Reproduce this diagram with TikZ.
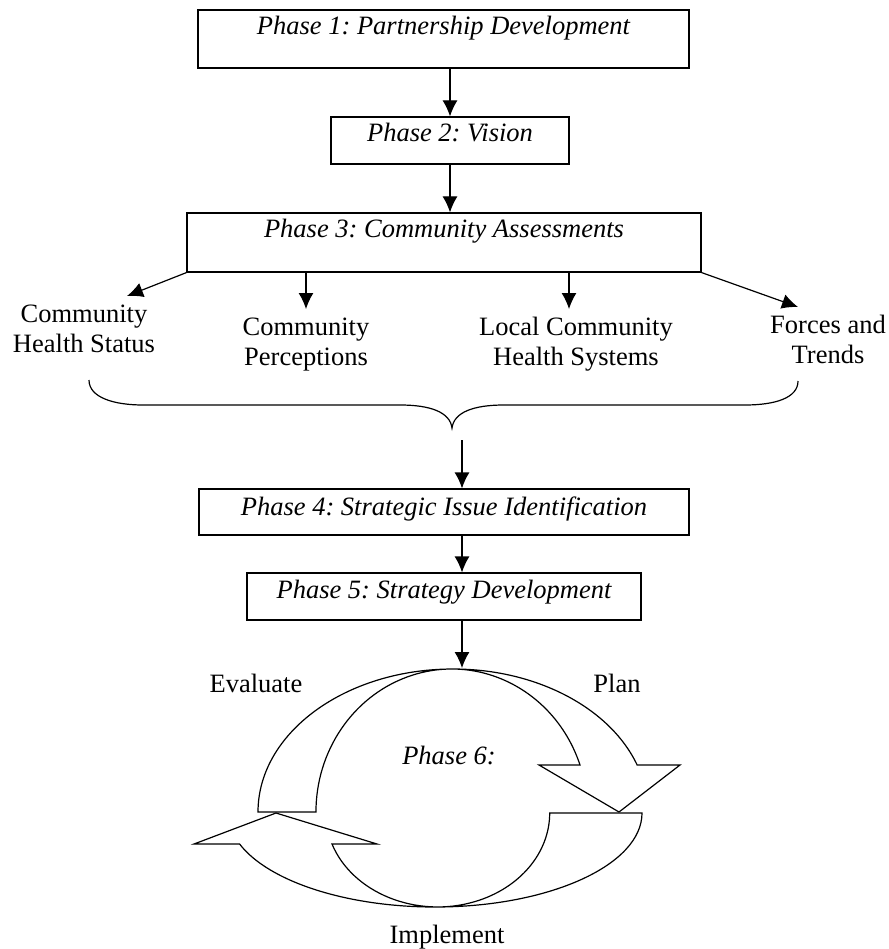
\documentclass[tikz,border=0pt]{standalone}
\usepackage{fontspec}
\setmainfont{Liberation Serif}
\usetikzlibrary{arrows.meta}
\newcommand{\cycsize}{\fontsize{26.5}{30}\selectfont\frenchspacing}
\begin{document}
\begin{tikzpicture}[x=1pt, y=-1pt, line width=1.2pt,
  every node/.style={font=\cycsize},
  phase/.style={draw, inner sep=0pt, anchor=base, text height=25pt, font=\cycsize\itshape},
  lbl/.style={align=center, inner sep=8pt, anchor=north},
  arr/.style={-{Latex[length=16pt, width=15pt]}}]
\useasboundingbox (0,0) rectangle (888,949);
\node[phase, text depth=33pt, minimum width=491pt] (p1) at (443.5,35) {Phase 1: Partnership Development};
\node[phase, text depth=22pt, minimum width=238pt] (p2) at (450,142) {Phase 2: Vision};
\node[phase, text depth=34pt, minimum width=514pt] (p3) at (444,238) {Phase 3: Community Assessments};
\node[phase, text height=26pt, text depth=20pt, minimum width=490pt] (p4) at (444,515) {Phase 4: Strategic Issue Identification};
\node[phase, text depth=22pt, minimum width=394pt] (p5) at (444,598) {Phase 5: Strategy Development};
\node[lbl] (chs) at (84,296) {Community\\Health Status};
\node[lbl] (cp) at (306,309) {Community\\Perceptions};
\node[lbl] (lchs) at (576,309) {Local Community\\Health Systems};
\node[lbl] (ft) at (828,307) {Forces and\\Trends};
\coordinate (merge) at (462,440);
\coordinate (cyc) at (462,668);
\draw[arr] (p1.south -| p2.north) -- (p2.north);
\draw[arr] (p2.south) -- (p2.south |- p3.north);
\draw[arr] (p3.south west) -- ([xshift=43pt]chs.north);
\draw[arr] (cp.north |- p3.south) -- (cp.north);
\draw[arr] ([xshift=-7pt]lchs.north |- p3.south) -- ([xshift=-7pt]lchs.north);
\draw[arr] (p3.south east) -- ([xshift=-30pt]ft.north);
\draw (89,380) .. controls (89,398) and (115,405) .. (143,405) -- (400,405) .. controls (430,405) and (450,412) .. (452,428) .. controls (454,412) and (474,405) .. (504,405) -- (745,405) .. controls (775,405) and (798,398) .. (798,381);
\draw[arr] (merge) -- (merge |- p4.north);
\draw[arr] (p4.south -| merge) -- (p5.north -| merge);
\draw[arr] (p5.south -| cyc) -- (cyc);
\filldraw[fill=white] (258,812) arc[start angle=180, end angle=340.8, x radius=195, y radius=143] -- (680,765) -- (619,812) -- (539,765) -- (580,765) arc[start angle=340.8, end angle=180, x radius=135.8, y radius=143] -- cycle;
\filldraw[fill=white] (642,813) arc[start angle=0, end angle=160.7, x radius=207, y radius=94] -- (194,844) -- (276,813) -- (377,844) -- (332,844) arc[start angle=160.7, end angle=0, x radius=112, y radius=94] -- cycle;
\node[anchor=base] (ev) at (256,692) {Evaluate};
\node[anchor=base] (pl) at (617,692) {Plan};
\node[anchor=base, font=\cycsize\itshape] (p6) at (449,764) {Phase 6:};
\node[anchor=base] (im) at (447,943) {Implement};
\end{tikzpicture}
\end{document}
